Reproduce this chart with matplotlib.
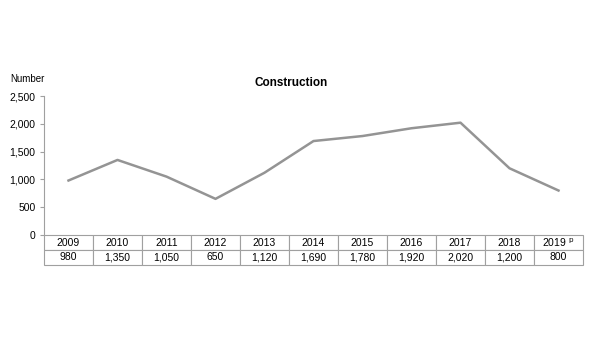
import matplotlib.pyplot as plt

plt.rcParams['font.family'] = ['Liberation Sans', 'DejaVu Sans']

years = ['2009', '2010', '2011', '2012', '2013', '2014', '2015', '2016', '2017', '2018', '2019 $^{\\rm p}$']
values = [980, 1350, 1050, 650, 1120, 1690, 1780, 1920, 2020, 1200, 800]
value_labels = ['980', '1,350', '1,050', '650', '1,120', '1,690', '1,780', '1,920', '2,020', '1,200', '800']

fig = plt.figure(figsize=(6, 3.6), dpi=100)
ax = fig.add_axes([44/600, 1-235/360, 539/600, 139/360])

x = list(range(len(values)))
ax.plot(x, values, color='#949494', linewidth=1.8)
ax.set_xlim(-0.5, len(values) - 0.5)
ax.set_ylim(0, 2500)
ax.set_yticks([0, 500, 1000, 1500, 2000, 2500])
ax.set_yticklabels(['0', '500', '1,000', '1,500', '2,000', '2,500'])
ax.set_xticks([])
for s in ['top', 'right', 'bottom']:
    ax.spines[s].set_visible(False)
ax.spines['left'].set_color('#a0a0a0')
ax.tick_params(axis='y', labelsize=7.5, length=3, color='#a0a0a0', pad=3)

tbl = ax.table(cellText=[years, value_labels], cellLoc='center', bbox=[0, -30/139, 1, 30/139])
tbl.auto_set_font_size(False)
tbl.set_fontsize(7.5)
for c in tbl.get_celld().values():
    c.set_edgecolor('#a0a0a0')
    c.set_linewidth(0.8)

fig.text(291/600, 1-83/360, 'Construction', ha='center', va='center', fontsize=8.5, fontweight='bold')
fig.text(10/600, 1-79/360, 'Number', ha='left', va='center', fontsize=7)

fig.savefig('out.png', dpi=100)
